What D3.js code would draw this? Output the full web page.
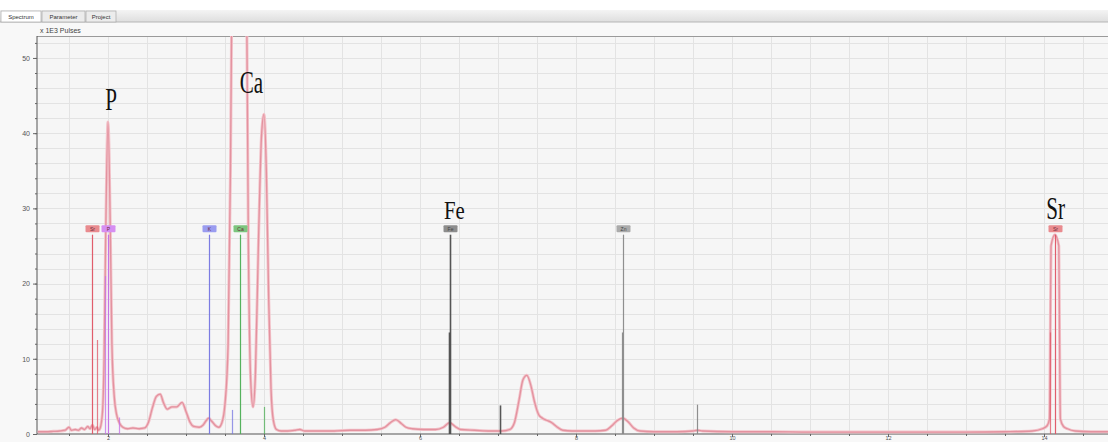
<!DOCTYPE html>
<html>
<head>
<meta charset="utf-8">
<script src="https://cdn.jsdelivr.net/npm/d3@7"></script>
<style>
  body { margin: 0; background: #fff; }
  svg { display: block; font-family: "Liberation Sans", Arial, sans-serif; }
</style>
</head>
<body>
<div id="app"></div>
<script>
// spectrum: energy (keV) and counts (x 1E3 pulses)
const spectrumKeV = [1.10,1.20,1.30,1.38,1.45,1.50,1.53,1.58,1.62,1.66,1.70,1.74,1.77,1.80,1.83,1.86,1.88,1.90,1.93,1.95,1.97,2.00,2.03,2.05,2.08,2.11,2.15,2.19,2.25,2.32,2.40,2.47,2.52,2.57,2.62,2.67,2.71,2.76,2.82,2.88,2.95,3.00,3.05,3.10,3.17,3.22,3.26,3.29,3.33,3.38,3.42,3.46,3.50,3.54,3.57,3.60,3.65,3.69,3.74,3.77,3.80,3.83,3.86,3.89,3.93,3.97,4.00,4.03,4.06,4.09,4.12,4.16,4.22,4.30,4.40,4.46,4.52,4.70,4.90,5.10,5.30,5.45,5.55,5.62,5.69,5.76,5.82,5.90,6.05,6.20,6.30,6.38,6.45,6.52,6.70,6.90,7.05,7.15,7.21,7.27,7.32,7.37,7.42,7.47,7.52,7.57,7.63,7.69,7.75,7.83,7.95,8.10,8.25,8.38,8.46,8.53,8.60,8.67,8.74,8.82,9.00,9.30,9.50,9.56,9.62,10.0,10.5,11.0,11.5,12.0,12.5,13.0,13.5,13.85,13.98,14.04,14.07,14.08,14.09,14.14,14.19,14.20,14.21,14.25,14.30,14.40,14.60,14.82];
const spectrumCounts = [0.3,0.3,0.35,0.4,0.5,0.9,0.5,0.6,0.5,0.8,0.6,1.0,0.7,1.2,0.6,0.9,0.5,0.8,3,10,26,41.5,27,12,5,2.6,1.4,0.9,0.7,0.8,0.7,0.8,1.6,3.5,5.0,5.3,4.2,3.3,3.6,3.6,4.2,3.0,1.6,1.0,0.9,1.2,1.8,2.1,1.7,1.1,0.9,1.5,4,12,35,75,130,150,120,70,25,7,3.6,8,26,40,42.5,35,18,6,1.8,0.6,0.4,0.4,0.5,0.6,0.4,0.4,0.4,0.5,0.5,0.6,0.9,1.5,1.9,1.4,0.9,0.7,0.6,0.6,0.9,1.5,1.0,0.6,0.5,0.4,0.4,0.6,1.5,4.5,7.2,7.8,6.5,4.2,2.6,2.1,1.8,1.5,1.0,0.5,0.4,0.4,0.4,0.5,1.1,1.8,2.1,1.6,0.8,0.4,0.3,0.3,0.4,0.5,0.4,0.3,0.3,0.25,0.25,0.25,0.25,0.25,0.3,0.4,0.7,1.1,2,12,25,26.5,25,12,2,1.0,0.7,0.4,0.3,0.3];

// element markers (label boxes)
const markerSymbols = ["Sr", "P", "K", "Ca", "Fe", "Zn", "Sr"];
const markerKeV = [1.79, 2.00, 3.29, 3.69, 6.38, 8.60, 14.14];

// marker lines: energy, height, element
const lineKeV = [1.79, 1.86, 2.00, 1.96, 2.14, 3.29, 3.59, 3.69, 4.00, 6.38, 6.37, 7.03, 8.60, 8.59, 9.55, 14.14, 14.08];
const lineHeight = [26.5, 12.5, 26.5, 21, 2.2, 26.5, 3.2, 26.5, 3.6, 26.5, 13.5, 3.8, 26.5, 13.5, 3.9, 26.5, 13.5];
const lineElement = ["Sr", "Sr", "P", "P", "P", "K", "K", "Ca", "Ca", "Fe", "Fe", "Fe", "Zn", "Zn", "Zn", "Sr", "Sr"];

// big annotations
const annotLabels = ["P", "Ca", "Fe", "Sr"];
const annotKeV = [2.04, 3.84, 6.44, 14.15];
const annotValue = [43.1, 45.3, 28.6, 28.6];

const xTicks = [2, 4, 6, 8, 10, 12, 14];
const yTicks = [0, 10, 20, 30, 40, 50];
const tabLabels = ["Spectrum", "Parameter", "Project"];

const lineColor = { Sr: "#e05565", P: "#c46ee6", K: "#7676e2", Ca: "#4daf55", Fe: "#4e4e4e", Zn: "#8a8a8a" };
const boxColor = { Sr: "#e98b8f", P: "#d68ef2", K: "#9a9cf0", Ca: "#7cc57e", Fe: "#8d8d8d", Zn: "#ababab" };

const W = 1108, H = 442;
const plotL = 37, plotT = 36, plotB = 434, plotR = 1108;

const svg = d3.select("#app").append("svg").attr("width", W).attr("height", H);

svg.append("rect").attr("width", W).attr("height", H).attr("fill", "#ffffff");
svg.append("rect").attr("y", 22).attr("width", W).attr("height", H - 22).attr("fill", "#f8f8f8");

// tab strip
const grad = svg.append("defs").append("linearGradient").attr("id", "tabg").attr("x1", 0).attr("x2", 0).attr("y1", 0).attr("y2", 1);
grad.append("stop").attr("offset", 0).attr("stop-color", "#f4f4f4");
grad.append("stop").attr("offset", 1).attr("stop-color", "#dedede");
svg.append("rect").attr("y", 10).attr("width", W).attr("height", 12).attr("fill", "url(#tabg)");
svg.append("line").attr("x1", 0).attr("x2", W).attr("y1", 22).attr("y2", 22).attr("stroke", "#b5b5b5");

const tabX = [1, 42, 86];
const tabW = [40, 43, 30];
const tabs = svg.append("g");
tabLabels.forEach((t, i) => {
  tabs.append("rect")
    .attr("x", tabX[i]).attr("y", 11).attr("width", tabW[i]).attr("height", 11)
    .attr("fill", i === 0 ? "#ffffff" : "#ececec")
    .attr("stroke", "#a8a8a8").attr("stroke-width", 0.7);
  tabs.append("text")
    .attr("x", tabX[i] + tabW[i] / 2).attr("y", 19)
    .attr("text-anchor", "middle").attr("font-size", 6).attr("fill", "#333")
    .text(t);
});

svg.append("text").attr("x", 40).attr("y", 33).attr("font-size", 7).attr("fill", "#444").text("x 1E3 Pulses");

const x = d3.scaleLinear().domain([2, 14]).range([108, 1044]);
const y = d3.scaleLinear().domain([0, 53]).range([plotB, 35.4]);

svg.append("rect").attr("x", plotL).attr("y", plotT).attr("width", plotR - plotL).attr("height", plotB - plotT).attr("fill", "#f6f6f6");

// grid
const grid = svg.append("g").attr("stroke", "#e3e3e3").attr("stroke-width", 1);
grid.selectAll("line.v").data(d3.range(1.5, 15, 0.5)).enter().append("line")
  .attr("x1", d => Math.round(x(d)) + 0.5).attr("x2", d => Math.round(x(d)) + 0.5)
  .attr("y1", plotT).attr("y2", plotB);
grid.selectAll("line.h").data(d3.range(2, 53, 2)).enter().append("line")
  .attr("y1", d => Math.round(y(d)) + 0.5).attr("y2", d => Math.round(y(d)) + 0.5)
  .attr("x1", plotL).attr("x2", plotR);

// frame top
svg.append("line").attr("x1", plotL).attr("x2", plotR).attr("y1", plotT + 0.5).attr("y2", plotT + 0.5).attr("stroke", "#9a9a9a");

// axes
const yAxis = svg.append("g").attr("transform", `translate(${plotL},0)`)
  .call(d3.axisLeft(y).tickValues(yTicks).tickSize(4).tickPadding(3));
svg.append("g").attr("transform", `translate(${plotL},0)`)
  .call(d3.axisLeft(y).tickValues(d3.range(0, 53, 2)).tickSize(2).tickFormat(""))
  .select(".domain").remove();
yAxis.select(".domain").attr("stroke", "#555").attr("d", `M0,${plotT}V${plotB}`);
yAxis.selectAll("text").attr("fill", "#555").attr("font-size", 7);

const xAxis = svg.append("g").attr("transform", `translate(0,${plotB})`)
  .call(d3.axisBottom(x).tickValues(xTicks).tickSize(3).tickPadding(0));
svg.append("g").attr("transform", `translate(0,${plotB})`)
  .call(d3.axisBottom(x).tickValues(d3.range(1.5, 15, 0.5)).tickSize(2).tickFormat(""))
  .select(".domain").remove();
xAxis.select(".domain").attr("stroke", "#555").attr("d", `M${plotL},0H${plotR}`);
xAxis.selectAll("text").attr("fill", "#555").attr("font-size", 5.5).attr("dy", "0.55em");
svg.selectAll(".tick line").attr("stroke", "#666");

// spectrum
svg.append("clipPath").attr("id", "plotclip").append("rect")
  .attr("x", plotL).attr("y", plotT).attr("width", plotR - plotL).attr("height", plotB - plotT);

const pts = spectrumKeV.map((k, i) => [k, spectrumCounts[i]]);
const line = d3.line().x(d => x(d[0])).y(d => y(d[1])).curve(d3.curveMonotoneX);

const spec = svg.append("g").attr("clip-path", "url(#plotclip)");
spec.append("path").datum(pts).attr("d", line)
  .attr("fill", "none").attr("stroke", "#f3c3ca").attr("stroke-width", 3);
spec.append("path").datum(pts).attr("d", line)
  .attr("fill", "none").attr("stroke", "#e3929f").attr("stroke-width", 1.3);

// marker lines
svg.append("g").selectAll("line").data(lineKeV).enter().append("line")
  .attr("x1", d => Math.round(x(d)) + 0.5).attr("x2", d => Math.round(x(d)) + 0.5)
  .attr("y1", y(0)).attr("y2", (d, i) => y(lineHeight[i]))
  .attr("stroke", (d, i) => lineColor[lineElement[i]])
  .attr("stroke-width", (d, i) => lineElement[i] === "Fe" ? 1.6 : 1.2)
  .attr("opacity", (d, i) => lineHeight[i] < 26 && lineElement[i] !== "Fe" && lineElement[i] !== "Zn" ? 0.75 : 0.95);

// marker label boxes
const mk = svg.append("g").selectAll("g").data(markerKeV).enter().append("g")
  .attr("transform", d => `translate(${Math.round(x(d)) + 0.5},${y(26.5) - 6})`);
mk.append("rect").attr("x", -7).attr("y", -3.5).attr("width", 14).attr("height", 7).attr("rx", 1)
  .attr("fill", (d, i) => boxColor[markerSymbols[i]]);
mk.append("text").attr("y", 2).attr("text-anchor", "middle").attr("font-size", 5)
  .attr("fill", (d, i) => markerSymbols[i] === "Fe" || markerSymbols[i] === "Zn" ? "#444" : "#6a2a3a")
  .text((d, i) => markerSymbols[i]);

// annotations
svg.append("g").selectAll("text").data(annotLabels).enter().append("text")
  .attr("transform", (d, i) => `translate(${x(annotKeV[i])},${y(annotValue[i])}) scale(${d === "Fe" ? 0.8 : 0.68},1)`)
  .attr("text-anchor", "middle")
  .attr("font-family", "'Liberation Serif', 'DejaVu Serif', serif")
  .attr("font-size", d => d === "Fe" ? 26 : 31)
  .attr("fill", "#111")
  .text(d => d);
</script>
</body>
</html>
